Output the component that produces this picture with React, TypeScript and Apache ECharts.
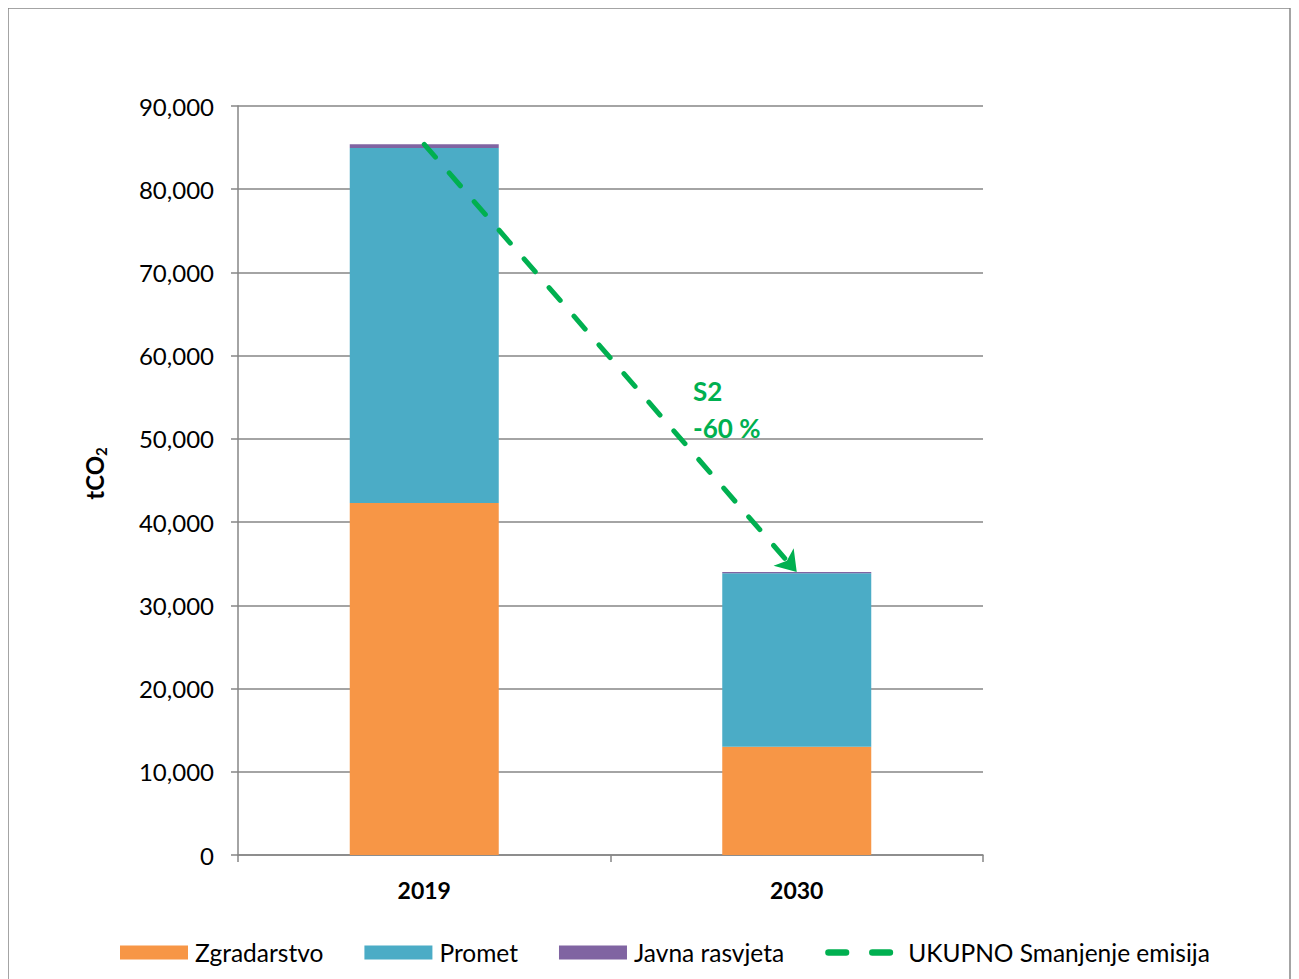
import React, { useEffect, useRef } from "react";
import * as echarts from "echarts";

const categories = ["2019", "2030"];
const zgradarstvo = [42300, 13000];
const promet = [42650, 20850];
const javnaRasvjeta = [450, 150];
const ukupno = [85400, 34000];
const yTicks = { min: 0, max: 90000, interval: 10000 };
const annotation = ["S2", "-60 %"];

const FONT = "Lato, Carlito, Calibri, 'Liberation Sans', sans-serif";
const GREEN = "#00B050";
const GRID = "#868686";

export default function App() {
  const ref = useRef<HTMLDivElement>(null);
  useEffect(() => {
    document.documentElement.style.overflow = "hidden";
    document.body.style.overflow = "hidden";
    const chart = echarts.init(ref.current!, null, { renderer: "svg" });
    const dash = [17, 21];
    const dashIcon =
      "path://M3,0 h16 a3,3 0 0 1 0,6 h-16 a3,3 0 0 1 0,-6 z M43,0 h16 a3,3 0 0 1 0,6 h-16 a3,3 0 0 1 0,-6 z";
    chart.setOption({
      animation: false,
      textStyle: { fontFamily: FONT },
      grid: { left: 230, right: 314, top: 98, bottom: 128 },
      legend: {
        left: 107,
        top: 927,
        itemWidth: 68,
        itemHeight: 14,
        itemGap: 41,
        textStyle: { fontFamily: FONT, fontSize: 24.5, color: "#000", padding: [0, 0, 0, 2] },
        data: [
          { name: "Zgradarstvo", icon: "rect" },
          { name: "Promet", icon: "rect" },
          { name: "Javna rasvjeta", icon: "rect" },
          {
            name: "UKUPNO Smanjenje emisija",
            icon: dashIcon,
            itemStyle: { color: GREEN },
            textStyle: { padding: [0, 0, 0, 10] },
          },
        ],
      },
      xAxis: {
        type: "category",
        data: categories,
        axisLine: { lineStyle: { color: GRID, width: 1.5 } },
        axisTick: { show: true, length: 7, lineStyle: { color: GRID, width: 1.5 } },
        axisLabel: { color: "#000", fontWeight: "bold", fontSize: 23, fontFamily: FONT, margin: 23 },
      },
      yAxis: {
        type: "value",
        min: yTicks.min,
        max: yTicks.max,
        interval: yTicks.interval,
        name: "{a|tCO}{b|2}",
        nameLocation: "middle",
        nameGap: 130,
        nameRotate: 90,
        nameTextStyle: {
          padding: [0, 0, 0, 14],
          rich: {
            a: { fontFamily: FONT, fontWeight: "bold", fontSize: 24, color: "#000" },
            b: { fontFamily: FONT, fontWeight: "bold", fontSize: 15, color: "#000", padding: [13, 0, 0, 0] },
          },
        },
        axisLine: { show: true, lineStyle: { color: GRID, width: 1.5 } },
        axisTick: { show: true, length: 7, lineStyle: { color: GRID, width: 1.5 } },
        splitLine: { lineStyle: { color: GRID, width: 1.5 } },
        axisLabel: {
          color: "#000",
          fontSize: 24,
          fontFamily: FONT,
          margin: 24,
          formatter: (v: number) => v.toLocaleString("en-US"),
        },
      },
      series: [
        {
          name: "Zgradarstvo",
          type: "bar",
          stack: "t",
          barWidth: "40%",
          data: zgradarstvo,
          itemStyle: { color: "#F79646" },
        },
        {
          name: "Promet",
          type: "bar",
          stack: "t",
          data: promet,
          itemStyle: { color: "#4BACC6" },
        },
        {
          name: "Javna rasvjeta",
          type: "bar",
          stack: "t",
          data: javnaRasvjeta,
          itemStyle: { color: "#8064A2" },
          markLine: {
            silent: true,
            symbol: ["none", "arrow"],
            symbolSize: [20, 20],
            label: { show: false },
            lineStyle: { color: GREEN, width: 5, type: dash, cap: "round" },
            data: [
              [
                { coord: [categories[0], ukupno[0]] },
                { coord: [categories[1], ukupno[1]] },
              ],
            ],
          },
        },
        {
          name: "UKUPNO Smanjenje emisija",
          type: "line",
          data: [],
          symbol: "none",
          itemStyle: { color: GREEN },
          lineStyle: { color: GREEN, width: 5, type: dash, cap: "round" },
        },
      ],
      graphic: [
        {
          type: "rect",
          shape: { x: 0, y: 0, width: 1282, height: 1100 },
          style: { fill: "none", stroke: GRID, lineWidth: 1.5 },
          silent: true,
        },
        {
          type: "text",
          x: 685,
          y: 370,
          style: { text: annotation[0], fill: GREEN, font: `bold 26px ${FONT}` },
        },
        {
          type: "text",
          x: 685,
          y: 407,
          style: { text: annotation[1], fill: GREEN, font: `bold 26px ${FONT}` },
        },
      ],
    });
    return () => chart.dispose();
  }, []);
  return <div ref={ref} style={{ width: 1289, height: 975 }} />;
}
